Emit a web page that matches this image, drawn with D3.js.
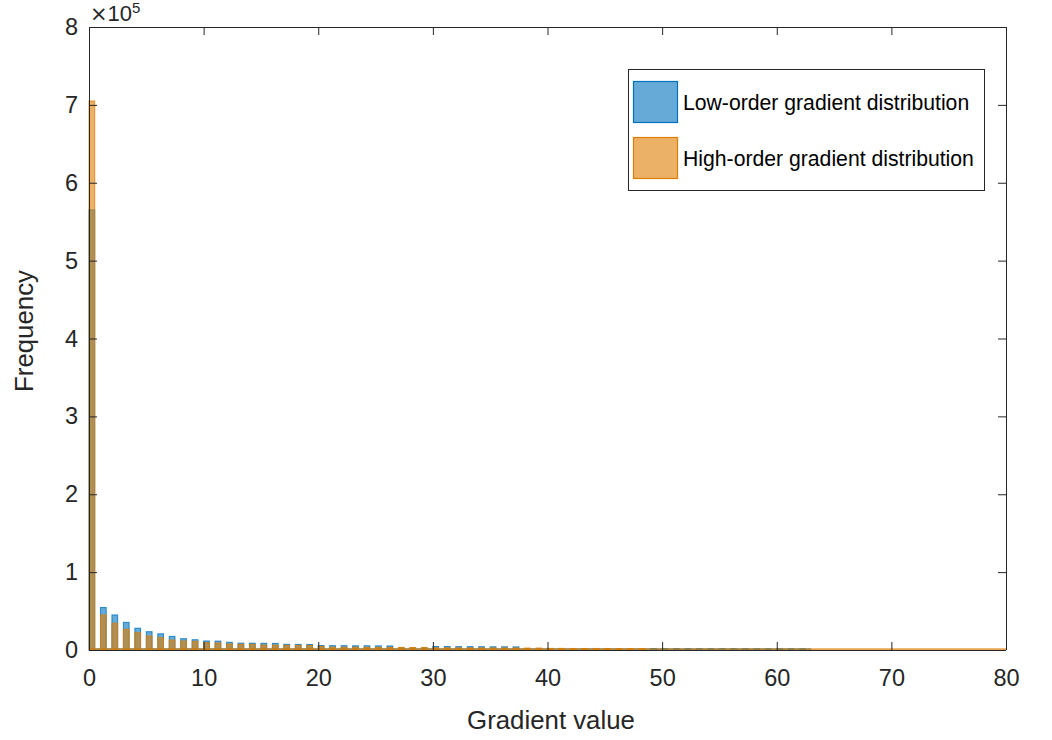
<!DOCTYPE html>
<html><head><meta charset="utf-8">
<script src="https://cdn.jsdelivr.net/npm/d3@7"></script>
<style>
body{margin:0;background:#fff;}
svg{display:block;font-family:"Liberation Sans",Arial,sans-serif;}
</style></head>
<body><svg id="c" width="1052" height="740"></svg>
<script>
// Bin start values (bins are 0.5 wide: [k, k+0.5])
const lowBins = d3.range(0, 63);
const lowValues = [
  565000, 54500, 45000, 35500, 28000, 23500, 20800, 17500, 14500, 13200,
  11600, 11400, 9900, 8800, 8700, 8600, 8500, 7300, 7200, 7100,
  5800, 5600, 5500, 5400, 5400, 5300, 5200, 2800, 2700, 2700,
  4500, 4400, 4300, 4300, 4200, 4100, 4100, 4000, 1500, 1500,
  1500, 1400, 1400, 1400, 1400, 1300, 1300, 1300, 1300, 1800,
  1800, 1800, 1800, 1700, 1700, 1700, 1700, 1700, 1600, 1600,
  1600, 1600, 1600
];
const highBins = d3.range(0, 49);
const highValues = [
  705000, 44900, 34300, 26500, 22200, 18000, 15800, 12800, 11500, 11000,
  9400, 9000, 7700, 7300, 7200, 6400, 6300, 6000, 5900, 5800,
  4700, 3600, 3500, 3500, 3400, 3400, 3300, 3300, 3200, 3200,
  2800, 2800, 2700, 2700, 2700, 2600, 2600, 2600, 2500, 2500,
  2100, 2100, 2000, 2000, 2000, 2000, 1900, 1900, 1900
];
const binWidth = 0.5;
const xTicks = [0,10,20,30,40,50,60,70,80];
const yTicks = [0,1,2,3,4,5,6,7,8];
const yExponent = 5;
const seriesNames = ["Low-order gradient distribution","High-order gradient distribution"];
const seriesColors = ["rgb(0,114,189)","rgb(222,125,0)"];
const xRange = [0, 80];
const yMax = 8;
const xLabel = "Gradient value";
const yLabel = "Frequency";

const svg = d3.select("#c");
const L=89, R=1006, T=27, B=650;
const x = d3.scaleLinear().domain(xRange).range([L,R]);
const y = d3.scaleLinear().domain([0, yMax*Math.pow(10,yExponent)]).range([B,T]);
const axisColor = "#262626";
const tickFont = 23.5;

function drawSeries(bins, values, color, maxX){
  const g = svg.append("g");
  g.append("line").attr("x1",x(0)).attr("x2",x(maxX)).attr("y1",y(0)-0.5).attr("y2",y(0)-0.5)
    .attr("stroke",color).attr("stroke-opacity",0.7).attr("stroke-width",2.5);
  g.selectAll("rect").data(bins.map((b,i)=>({b, v: values[i]}))).join("rect")
    .attr("x", d=>x(d.b)).attr("width", d=>x(d.b+binWidth)-x(d.b))
    .attr("y", d=>y(d.v)).attr("height", d=>y(0)-y(d.v))
    .attr("fill", color).attr("fill-opacity",0.6)
    .attr("stroke", color).attr("stroke-opacity",0.8).attr("stroke-width",1);
}
drawSeries(lowBins, lowValues, seriesColors[0], 63);
drawSeries(highBins, highValues, seriesColors[1], 80);

// axes
const yt = yTicks.map(v=>v*Math.pow(10,yExponent));
const ax = svg.append("g");
const axB = ax.append("g").attr("transform",`translate(0,${B})`)
  .call(d3.axisBottom(x).tickValues(xTicks).tickSize(-8).tickPadding(19).tickFormat(d3.format("d")));
const axT = ax.append("g").attr("transform",`translate(0,${T})`)
  .call(d3.axisTop(x).tickValues(xTicks).tickSize(-8).tickFormat(""));
const axL = ax.append("g").attr("transform",`translate(${L},0)`)
  .call(d3.axisLeft(y).tickValues(yt).tickSize(-8).tickPadding(11).tickFormat(d=>String(d/Math.pow(10,yExponent))));
const axR = ax.append("g").attr("transform",`translate(${R},0)`)
  .call(d3.axisRight(y).tickValues(yt).tickSize(-8).tickFormat(""));
[axB,axT,axL,axR].forEach(a=>{
  a.attr("font-family","Liberation Sans, Arial, sans-serif");
  a.select(".domain").attr("stroke",axisColor).attr("stroke-width",1);
  a.selectAll(".tick line").attr("stroke",axisColor).attr("stroke-width",1);
  a.selectAll(".tick text").attr("fill",axisColor).attr("font-size",tickFont);
});
axB.select(".domain").attr("d",`M${L},0.5H${R}`);
axT.select(".domain").attr("d",`M${L},0.5H${R}`);
axL.select(".domain").attr("d",`M0.5,${T}V${B}`);
axR.select(".domain").attr("d",`M0.5,${T}V${B}`);

// exponent
const ex = svg.append("text").attr("x",L+1).attr("y",21).attr("fill",axisColor).attr("font-size",22);
ex.append("tspan").attr("font-family","DejaVu Sans").attr("font-size",21).text("\u00d7");
ex.append("tspan").text("10");
ex.append("tspan").attr("dy",-8.5).attr("font-size",15).text(String(yExponent));

// labels
svg.append("text").attr("x",551).attr("y",729).attr("text-anchor","middle")
  .attr("fill",axisColor).attr("font-size",25.8).text(xLabel);
svg.append("text").attr("transform",`translate(33,${331}) rotate(-90)`).attr("text-anchor","middle")
  .attr("fill",axisColor).attr("font-size",25.8).text(yLabel);

// legend
const lg = svg.append("g");
lg.append("rect").attr("x",628.5).attr("y",69.5).attr("width",356).attr("height",121)
  .attr("fill","#fff").attr("stroke",axisColor).attr("stroke-width",1);
seriesNames.forEach((n,i)=>{
  const yy = 81 + i*56;
  lg.append("rect").attr("x",633.5).attr("y",yy+0.5).attr("width",44).attr("height",41)
    .attr("fill",seriesColors[i]).attr("fill-opacity",0.6)
    .attr("stroke",seriesColors[i]).attr("stroke-width",1.2);
  lg.append("text").attr("x",683).attr("y",yy+29).attr("fill","#000").attr("font-size",21.2).text(n);
});
</script></body></html>
